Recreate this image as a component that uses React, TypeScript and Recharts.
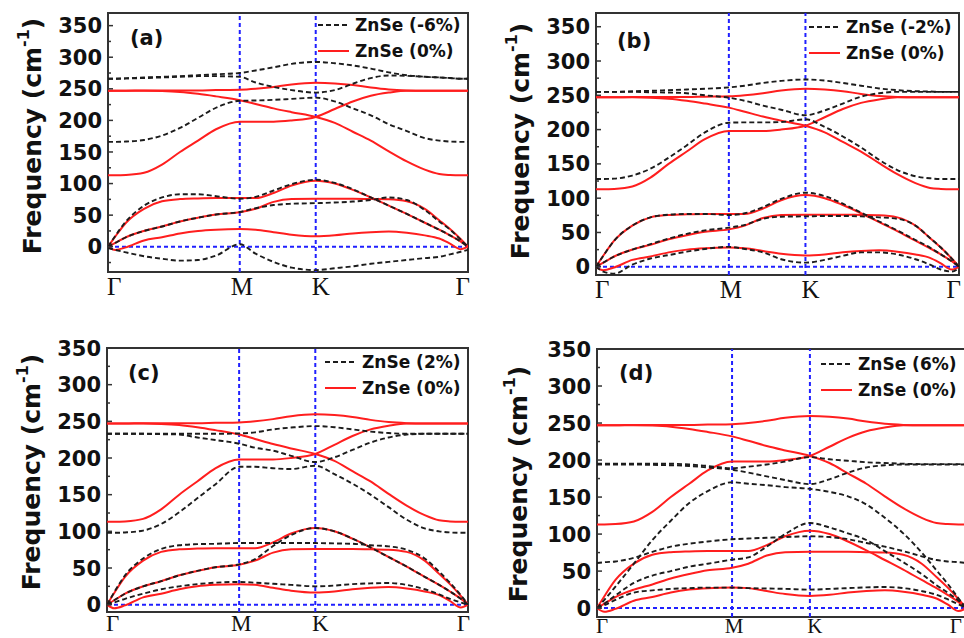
import { FC } from 'react';
import { Line, LineChart, ReferenceArea, ReferenceLine, XAxis, YAxis } from 'recharts';

// k-path position, Γ = 0, M, K, Γ = 1
const kPath = [0, 0.02, 0.05, 0.1, 0.15, 0.2, 0.25, 0.3, 0.366, 0.41, 0.46, 0.51, 0.577, 0.63, 0.68, 0.73, 0.78, 0.83, 0.88, 0.92, 0.95, 0.98, 1];
const kTicks = [0, 0.366, 0.577, 1];
const kLabels = ['Γ', 'M', 'K', 'Γ'];

// ZnSe (0%) branches, ZA / TA / LA / three optical
const bandsZero = [
  [0, -5, -1, 10, 15, 21, 25, 27, 28, 27, 23, 19, 16.5, 18, 21, 23, 24, 22, 18, 13, 5, -4, 0],
  [0, 6, 15, 25, 32, 40, 46, 51, 54.5, 60, 71, 75.5, 76, 76, 76, 75.5, 75, 72, 60, 42, 28, 12, 0],
  [0, 16, 38, 60, 72, 75.5, 76.5, 77, 77, 77, 85, 97, 104.5, 100, 90, 78, 65, 52, 38, 27, 18, 8, 0],
  [113, 113, 113.5, 117, 130, 150, 168, 186, 198, 198, 198, 200, 205.5, 218, 230, 239, 244, 247, 247, 247, 247, 247, 247],
  [247, 247, 247, 247, 246.5, 245, 242, 238, 232, 226, 219, 213, 205.5, 196, 182, 168, 151, 135, 122, 115, 113.5, 113, 113],
  [247, 247, 247, 247.5, 247.5, 247.5, 247.5, 248, 248.5, 250, 253, 257, 259.5, 258.5, 256, 252, 249, 247.5, 247, 247, 247, 247, 247],
];

const bandsMinus6 = [
  [-2, -5, -9, -15, -19, -22, -21, -14, 4, -11, -24, -33, -37, -34, -31, -27, -24, -21, -18, -16, -12, -8, -5],
  [0, 6, 15, 25, 32, 40, 46, 51, 55, 61, 66, 68, 69, 70, 71.5, 74, 78, 74, 58, 40, 27, 11, 0],
  [0, 17, 40, 65, 78, 83, 83, 80, 76, 79, 89, 99, 106, 101, 91, 78, 65, 52, 38, 27, 18, 8, 0],
  [166, 166, 166.5, 169, 176, 188, 204, 220, 231, 231.5, 232.5, 234, 236, 230, 219, 208, 194, 183, 172, 168, 166.5, 166, 166],
  [266, 266, 266.5, 267, 268, 269, 270, 270, 269, 260, 253, 248, 244, 248, 258, 267, 271, 270.5, 269, 268, 267, 266, 266],
  [266, 266, 266.5, 268, 269, 270, 271.5, 273, 275, 279, 284, 289.5, 292.5, 290.5, 287, 282, 276, 271.5, 269, 268, 267, 266, 266],
];

const bandsMinus2 = [
  [0, -7, -10, 3, 12, 17, 22, 26, 29, 26, 21, 11, 6, 10, 16, 21, 21, 18, 11, 3, -4, -7, -2],
  [0, 6, 15, 25, 33, 41, 48, 53, 57, 61, 70, 73, 73.5, 74, 74, 73.5, 72, 70, 60, 42, 28, 12, 0],
  [0, 16, 38, 60, 72, 76, 77, 77, 75.5, 78, 87, 99, 108, 103, 92, 79, 66, 53, 39, 28, 18, 8, 0],
  [128, 128, 128.5, 133, 143, 159, 177, 196, 210, 210.5, 210.5, 211, 215, 204, 190, 174, 156, 141, 132, 129, 128, 128, 128],
  [255, 255, 255, 255, 254.5, 254, 253, 250, 246.5, 242, 235, 229, 221, 228, 238, 248, 253, 255, 255, 255, 255, 255, 255],
  [255, 255, 255, 256, 256.5, 257.5, 258.5, 259.5, 261.5, 264, 268, 271, 273, 271.5, 268, 264, 260, 257.5, 256, 255.5, 255, 255, 255],
];

const bandsPlus2 = [
  [0, 3, 8, 15, 21, 25, 28, 30, 31, 30, 28.5, 27, 25, 26, 28, 29, 29.5, 27, 21, 14, 8, 3, 0],
  [0, 6, 15, 25, 32, 40, 46, 51, 55, 62, 80, 95, 104.5, 100, 90, 78, 65, 52, 38, 27, 18, 8, 0],
  [0, 17, 40, 63, 76, 81, 82.5, 83, 84, 84, 84, 84, 84, 83.5, 83, 81, 79.5, 75, 63, 45, 30, 13, 0],
  [98, 98, 98.5, 101, 110, 126, 145, 164, 188, 188, 186, 185, 189.5, 178, 165, 150, 133, 116, 104, 100, 98.5, 98, 98],
  [233, 233, 233, 233, 232.5, 232, 228, 224.5, 219.5, 214, 210, 203, 194.5, 201, 211, 221, 228, 232, 233, 233, 233, 233, 233],
  [233, 233, 233, 233, 233, 233, 233, 233, 233.5, 235, 239, 241.5, 243.5, 242, 239, 236, 234, 233, 233, 233, 233, 233, 233],
];

const bandsPlus6 = [
  [0, 4, 11, 21, 24, 26, 27, 27.7, 27.7, 27, 26.5, 26, 25, 26, 27, 28, 28.5, 27, 23, 18, 12, 5, 0],
  [0, 6, 17, 34, 44, 50, 56, 60, 65.5, 68.5, 83, 100, 115, 109, 101, 92, 77, 62, 46, 31, 21, 10, 0],
  [0, 11, 29, 60, 92, 118, 142, 158, 170, 168, 166, 163.5, 161, 157, 151, 140, 122, 101, 75, 51, 33, 13, 0],
  [61, 62, 63, 68, 76, 83, 87, 90, 93, 94, 95, 96, 97, 96, 93, 88, 83, 77, 70, 65, 63, 62, 61],
  [194, 194, 194, 194, 193.5, 193, 192, 190, 187, 183, 178, 173, 167.5, 174, 183, 190, 193, 194, 194, 194, 194, 194, 194],
  [195, 195, 195, 195, 195, 195, 194, 192, 189, 191, 194, 198, 204, 201, 199, 197, 196, 195, 194.5, 194.5, 194.5, 194.5, 194.5],
];

const SANS = '"DejaVu Sans", sans-serif';
const SERIF = '"Liberation Serif", "Times New Roman", serif';
const RED = '#ff1e1e';
const DASH = '#1c1c1c';
const BLUE = '#2020ff';

interface PanelConfig {
  tag: string;
  strain: string;
  bands: number[][];
  left: number;
  top: number;
  w: number;
  h: number;
  yw: number;
  mt: number;
  mr: number;
  mb: number;
  xh: number;
  yDomain: [number, number];
  kFont: number;
  kBase: number;
  kEndDx: number;
  labelX: number;
  labelY: number;
  tagX: number;
  tagY: number;
  legX: number;
  legY: number;
}

const panels: PanelConfig[] = [
  { tag: '(a)', strain: 'ZnSe (-6%)', bands: bandsMinus6, left: 0, top: 0, w: 480, h: 310, yw: 108, mt: 13, mr: 12, mb: 8, xh: 30, yDomain: [-40, 370], kFont: 25, kBase: 23, kEndDx: 2, labelX: 32, labelY: 136, tagX: 130, tagY: 38, legX: 318, legY: 25 },
  { tag: '(b)', strain: 'ZnSe (-2%)', bands: bandsMinus2, left: 484, top: 0, w: 480, h: 310, yw: 112, mt: 13, mr: 5, mb: 5, xh: 30, yDomain: [-12, 370], kFont: 25, kBase: 23, kEndDx: 2, labelX: 520, labelY: 141, tagX: 617, tagY: 41, legX: 809, legY: 27 },
  { tag: '(c)', strain: 'ZnSe (2%)', bands: bandsPlus2, left: 0, top: 320, w: 480, h: 318, yw: 107, mt: 28, mr: 12, mb: 0, xh: 26, yDomain: [-10, 350], kFont: 23, kBase: 19, kEndDx: 2, labelX: 31, labelY: 472, tagX: 128, tagY: 373, legX: 325, legY: 362 },
  { tag: '(d)', strain: 'ZnSe (6%)', bands: bandsPlus6, left: 484, top: 320, w: 490, h: 340, yw: 113, mt: 29, mr: 8, mb: 8, xh: 35, yDomain: [-12, 350], kFont: 21, kBase: 16, kEndDx: -4, labelX: 518, labelY: 484, tagX: 619, tagY: 373, legX: 821, legY: 364 },
];

const Panel: FC<{ cfg: PanelConfig }> = ({ cfg }) => {
  const rows = kPath.map((k, i) => {
    const row: Record<string, number> = { k };
    bandsZero.forEach((b, j) => (row['r' + j] = b[i]));
    cfg.bands.forEach((b, j) => (row['s' + j] = b[i]));
    return row;
  });
  const yTicks: number[] = [];
  for (let v = Math.ceil(cfg.yDomain[0] / 25) * 25; v <= cfg.yDomain[1]; v += 25) yTicks.push(v);
  const plotLeft = cfg.yw;
  const plotBottom = cfg.h - cfg.mb - cfg.xh;

  const YTick = (p: any) => {
    const v = p.payload.value;
    const major = v % 50 === 0;
    return (
      <g>
        <line x1={plotLeft} x2={plotLeft + (major ? 5 : 3)} y1={p.y} y2={p.y} stroke="#333" strokeWidth={1.5} />
        {major && v >= 0 ? (
          <text x={plotLeft - 6} y={p.y} dy="0.36em" textAnchor="end" fontFamily={SANS} fontWeight="bold" fontSize={21} fill="#111">
            {v}
          </text>
        ) : null}
      </g>
    );
  };

  const XTick = (p: any) => {
    const i = kTicks.indexOf(p.payload.value);
    const anchor = i === 0 ? 'start' : i === 3 ? 'end' : 'middle';
    const dx = i === 0 ? -1 : i === 3 ? cfg.kEndDx : i === 1 ? 2 : 5;
    return (
      <text x={p.x + dx} y={plotBottom + cfg.kBase} textAnchor={anchor} fontFamily={SERIF} fontSize={cfg.kFont} fill="#111">
        {kLabels[i]}
      </text>
    );
  };

  return (
    <div style={{ position: 'absolute', left: cfg.left, top: cfg.top }}>
      <LineChart width={cfg.w} height={cfg.h} data={rows} margin={{ top: cfg.mt, right: cfg.mr, bottom: cfg.mb, left: 0 }}>
        <XAxis dataKey="k" type="number" domain={[0, 1]} ticks={kTicks} interval={0} axisLine={false} tickLine={false} height={cfg.xh} tick={XTick} allowDataOverflow />
        <YAxis type="number" domain={cfg.yDomain} ticks={yTicks} interval={0} axisLine={false} tickLine={false} width={cfg.yw} tick={YTick} allowDataOverflow />
        <ReferenceLine x={kTicks[1]} stroke={BLUE} strokeWidth={2} strokeDasharray="4 3" />
        <ReferenceLine x={kTicks[2]} stroke={BLUE} strokeWidth={2} strokeDasharray="4 3" />
        <ReferenceLine y={0} stroke={BLUE} strokeWidth={2} strokeDasharray="4 3" />
        {bandsZero.map((_, j) => (
          <Line key={'r' + j} dataKey={'r' + j} type="monotone" stroke={RED} strokeWidth={2} dot={false} isAnimationActive={false} />
        ))}
        {cfg.bands.map((_, j) => (
          <Line key={'s' + j} dataKey={'s' + j} type="monotone" stroke={DASH} strokeWidth={1.9} strokeDasharray="5 3" dot={false} isAnimationActive={false} />
        ))}
        <ReferenceArea x1={0} x2={1} y1={cfg.yDomain[0]} y2={cfg.yDomain[1]} fill="none" stroke="#333" strokeWidth={2} />
      </LineChart>
    </div>
  );
};

const Overlay: FC = () => (
  <svg width={964} height={638} style={{ position: 'absolute', left: 0, top: 0, pointerEvents: 'none' }}>
    {panels.map((p) => (
      <g key={p.tag}>
        <text
          x={p.labelX}
          y={p.labelY}
          transform={`rotate(-90 ${p.labelX} ${p.labelY})`}
          textAnchor="middle"
          dominantBaseline="central"
          fontFamily={SANS}
          fontWeight="bold"
          fontSize={25}
          fill="#111"
        >
          Frequency (cm
          <tspan dy={-9} fontSize={16}>-1</tspan>
          <tspan dy={9}>)</tspan>
        </text>
        <text x={p.tagX} y={p.tagY} dominantBaseline="central" fontFamily={SANS} fontWeight="bold" fontSize={21} fill="#111">
          {p.tag}
        </text>
        <line x1={p.legX} x2={p.legX + 31} y1={p.legY} y2={p.legY} stroke={DASH} strokeWidth={1.9} strokeDasharray="5 3" />
        <text x={p.legX + 37} y={p.legY} dominantBaseline="central" fontFamily={SANS} fontWeight="bold" fontSize={17} fill="#111">
          {p.strain}
        </text>
        <line x1={p.legX} x2={p.legX + 31} y1={p.legY + 26} y2={p.legY + 26} stroke={RED} strokeWidth={2} />
        <text x={p.legX + 37} y={p.legY + 26} dominantBaseline="central" fontFamily={SANS} fontWeight="bold" fontSize={17} fill="#111">
          ZnSe (0%)
        </text>
      </g>
    ))}
  </svg>
);

export default function App() {
  return (
    <div style={{ position: 'absolute', left: 0, top: 0, width: 964, height: 638, overflow: 'hidden', background: '#fff' }}>
      {panels.map((p) => (
        <Panel key={p.tag} cfg={p} />
      ))}
      <Overlay />
    </div>
  );
}
